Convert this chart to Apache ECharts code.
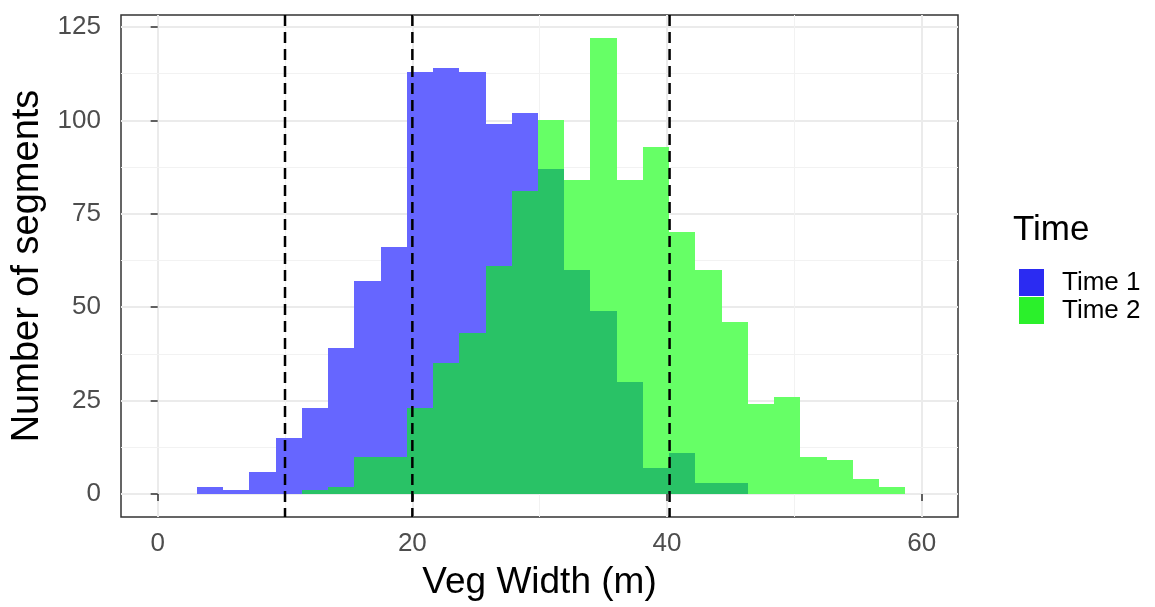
<!DOCTYPE html>
<html>
<head>
<meta charset="utf-8">
<script src="https://cdn.jsdelivr.net/npm/echarts@6/dist/echarts.min.js"></script>
<style>
  html, body { margin: 0; padding: 0; background: #fff; }
  #chart { width: 1155px; height: 607px; }
</style>
</head>
<body>
<div id="chart"></div>
<script>
// histogram bins (centres, m) and counts per bin
const binWidth = 2.06;
const binCenters = [0, 2.06, 4.12, 6.18, 8.24, 10.3, 12.36, 14.42, 16.48, 18.54,
  20.6, 22.66, 24.72, 26.78, 28.84, 30.9, 32.96, 35.02, 37.08, 39.14,
  41.2, 43.26, 45.32, 47.38, 49.44, 51.5, 53.56, 55.62, 57.68, 59.74];
const time1Counts = [0, 0, 2, 1, 6, 15, 23, 39, 57, 66,
  113, 114, 113, 99, 102, 87, 60, 49, 30, 7,
  11, 3, 3, 0, 0, 0, 0, 0, 0, 0];
const time2Counts = [0, 0, 0, 0, 0, 0, 1, 2, 10, 10,
  23, 35, 43, 61, 81, 100, 84, 122, 84, 93,
  70, 60, 46, 24, 26, 10, 9, 4, 2, 0];
const cutoffs = [10, 20, 40.2];
const xTicks = [0, 20, 40, 60];
const yTicks = [0, 25, 50, 75, 100, 125];
const xMinorGrid = [10, 30, 50];
const yMinorGrid = [12.5, 37.5, 62.5, 87.5, 112.5];

const FONT = 'Liberation Sans, Arial, sans-serif';

function toData(counts) {
  return binCenters.map((c, i) => [c, counts[i]]);
}

// one rectangle per bin, snapped to whole pixels so neighbours do not leave seams
function makeRender(fill) {
  return function (params, api) {
    const c = api.value(0);
    const n = api.value(1);
    if (!n) return null;
    const p0 = api.coord([c - binWidth / 2, n]);
    const p1 = api.coord([c + binWidth / 2, 0]);
    const x0 = Math.round(p0[0]);
    const x1 = Math.round(p1[0]);
    const y0 = Math.round(p0[1]);
    const y1 = Math.round(p1[1]);
    return {
      type: 'rect',
      shape: { x: x0, y: y0, width: x1 - x0, height: y1 - y0 },
      style: { fill: fill }
    };
  };
}

// vertical dashed line across the whole panel
function renderCutoff(params, api) {
  const x = api.coord([api.value(0), 0])[0];
  const cs = params.coordSys;
  return {
    type: 'line',
    shape: { x1: x, y1: cs.y, x2: x, y2: cs.y + cs.height },
    style: { stroke: '#000', lineWidth: 2.5, lineDash: [11, 6] }
  };
}

const chart = echarts.init(document.getElementById('chart'));

chart.setOption({
  animation: false,
  backgroundColor: '#fff',
  title: {
    text: 'Time',
    left: 1008,
    top: 208,
    textStyle: { fontFamily: FONT, fontSize: 35, fontWeight: 'normal', color: '#000' }
  },
  legend: {
    orient: 'vertical',
    left: 1014,
    top: 264,
    itemWidth: 25,
    itemHeight: 27,
    itemGap: 1,
    icon: 'rect',
    data: [
      { name: 'Time 1', itemStyle: { color: '#2b2bf2' } },
      { name: 'Time 2', itemStyle: { color: '#2bf02b' } }
    ],
    textStyle: { fontFamily: FONT, fontSize: 26, color: '#000', padding: [0, 0, 0, 13] }
  },
  grid: {
    left: 121, right: 197, top: 15, bottom: 90,
    show: true,
    borderColor: '#333',
    borderWidth: 1.5,
    backgroundColor: 'transparent'
  },
  xAxis: {
    type: 'value',
    min: -2.88,
    max: 62.85,
    name: 'Veg Width (m)',
    nameLocation: 'middle',
    nameGap: 47,
    nameTextStyle: { fontFamily: FONT, fontSize: 37, color: '#000' },
    axisLine: { show: false },
    axisTick: { show: true, length: 7, customValues: xTicks, lineStyle: { color: '#333', width: 1.5 } },
    axisLabel: { customValues: xTicks, margin: 14, fontFamily: FONT, fontSize: 26, color: '#4d4d4d' },
    splitLine: { show: true, lineStyle: { color: '#ebebeb', width: 2 } }
  },
  yAxis: {
    type: 'value',
    min: -6.16,
    max: 128.2,
    name: 'Number of segments',
    nameLocation: 'middle',
    nameGap: 69,
    nameTextStyle: { fontFamily: FONT, fontSize: 38, color: '#000' },
    axisLine: { show: false },
    axisTick: { show: true, length: 7, customValues: yTicks, lineStyle: { color: '#333', width: 1.5 } },
    axisLabel: { customValues: yTicks, margin: 20, fontFamily: FONT, fontSize: 26, color: '#4d4d4d' },
    splitLine: { show: true, lineStyle: { color: '#ebebeb', width: 2 } }
  },
  series: [
    {
      name: 'minor grid',
      type: 'line',
      data: [],
      z: 1,
      silent: true,
      markLine: {
        silent: true,
        symbol: 'none',
        label: { show: false },
        lineStyle: { color: '#f2f2f2', width: 1, type: 'solid' },
        data: xMinorGrid.map(v => ({ xAxis: v })).concat(yMinorGrid.map(v => ({ yAxis: v })))
      }
    },
    // bars and cutoff lines sit on their own layer, above the grid lines
    {
      name: 'backing 1',
      type: 'custom',
      zlevel: 1,
      z: 2,
      clip: true,
      silent: true,
      renderItem: makeRender('#fff'),
      data: toData(time1Counts)
    },
    {
      name: 'backing 2',
      type: 'custom',
      zlevel: 1,
      z: 2,
      clip: true,
      silent: true,
      renderItem: makeRender('#fff'),
      data: toData(time2Counts)
    },
    {
      name: 'Time 1',
      type: 'custom',
      zlevel: 1,
      z: 3,
      clip: true,
      itemStyle: { color: '#2b2bf2' },
      renderItem: makeRender('rgba(0, 0, 255, 0.6)'),
      data: toData(time1Counts)
    },
    {
      name: 'Time 2',
      type: 'custom',
      zlevel: 1,
      z: 4,
      clip: true,
      itemStyle: { color: '#2bf02b' },
      renderItem: makeRender('rgba(0, 255, 0, 0.6)'),
      data: toData(time2Counts)
    },
    {
      name: 'cutoffs',
      type: 'custom',
      zlevel: 1,
      z: 6,
      silent: true,
      renderItem: renderCutoff,
      data: cutoffs.map(v => [v, 0])
    }
  ]
});
</script>
</body>
</html>
